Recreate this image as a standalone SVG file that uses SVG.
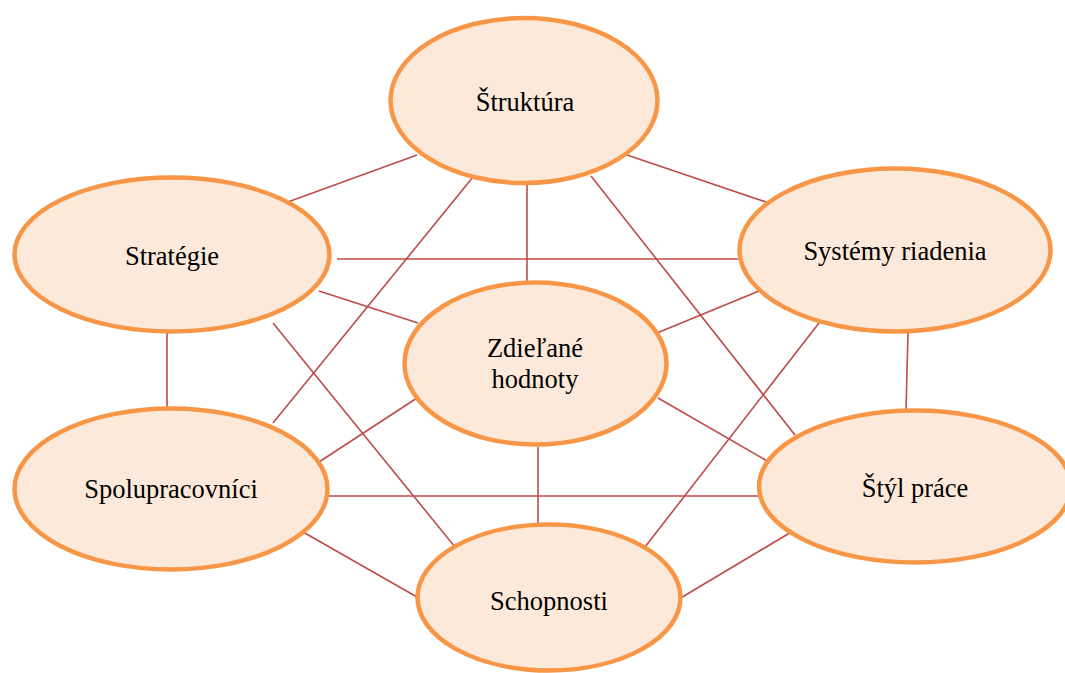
<svg xmlns="http://www.w3.org/2000/svg" width="1065" height="673" viewBox="0 0 1065 673">
<style>
.node{fill:#FDE9D9;stroke:#F79646;stroke-width:4.5}
.lbl{font-family:"Liberation Serif","Times New Roman",serif;font-size:26.5px;fill:#000;text-anchor:middle}
.conn line{stroke:#BE4B48;stroke-width:1.6}
</style>
<rect width="1065" height="673" fill="#ffffff"/>
<g id="connectors" class="conn">
<line x1="417" y1="155" x2="285" y2="203"/>
<line x1="473" y1="177" x2="273" y2="423"/>
<line x1="527" y1="185" x2="527" y2="283"/>
<line x1="591" y1="176" x2="795" y2="435"/>
<line x1="627" y1="155" x2="769" y2="203"/>
<line x1="337" y1="259" x2="738" y2="259"/>
<line x1="319" y1="291" x2="418" y2="323"/>
<line x1="167" y1="333" x2="167" y2="412"/>
<line x1="273" y1="323" x2="455" y2="547"/>
<line x1="759" y1="291" x2="657" y2="333"/>
<line x1="908" y1="333" x2="906" y2="411"/>
<line x1="819" y1="323" x2="645" y2="547"/>
<line x1="417" y1="398" x2="319" y2="462"/>
<line x1="658" y1="398" x2="769" y2="462"/>
<line x1="538" y1="447" x2="538" y2="525"/>
<line x1="328" y1="496" x2="758" y2="496"/>
<line x1="303" y1="532" x2="417" y2="597"/>
<line x1="793" y1="531" x2="679" y2="599"/>
</g>
<g id="struktura">
<ellipse class="node" cx="524" cy="100.5" rx="133.5" ry="82.5"/>
<text class="lbl" x="525" y="111">Štruktúra</text>
</g>
<g id="strategie">
<ellipse class="node" cx="172" cy="254.5" rx="157.5" ry="77"/>
<text class="lbl" x="172" y="265">Stratégie</text>
</g>
<g id="systemy">
<ellipse class="node" cx="895" cy="250" rx="155.5" ry="81.5"/>
<text class="lbl" x="895" y="260">Systémy riadenia</text>
</g>
<g id="zdielane">
<ellipse class="node" cx="535.5" cy="363.5" rx="131" ry="81"/>
<text class="lbl" x="535" y="357">Zdieľané</text>
<text class="lbl" x="535" y="388">hodnoty</text>
</g>
<g id="spolupracovnici">
<ellipse class="node" cx="171" cy="489" rx="156.5" ry="80.5"/>
<text class="lbl" x="171" y="498">Spolupracovníci</text>
</g>
<g id="styl">
<ellipse class="node" cx="915" cy="486.5" rx="156" ry="76"/>
<text class="lbl" x="915" y="497">Štýl práce</text>
</g>
<g id="schopnosti">
<ellipse class="node" cx="549" cy="597.5" rx="131.5" ry="73"/>
<text class="lbl" x="549" y="610">Schopnosti</text>
</g>
</svg>
